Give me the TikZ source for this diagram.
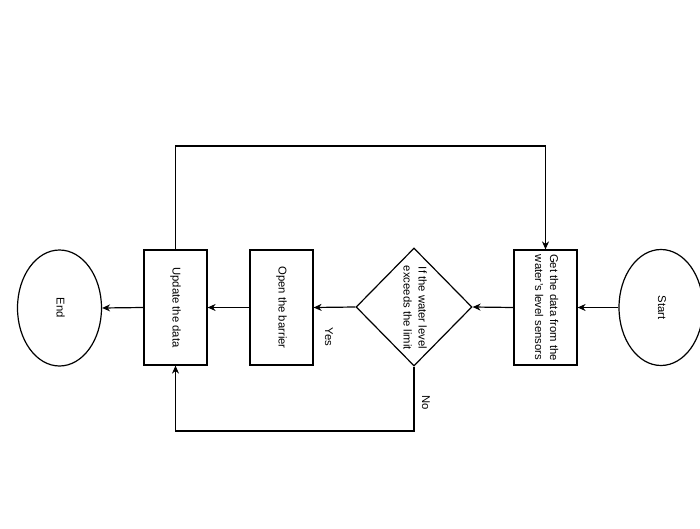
\documentclass[tikz,border=0pt]{standalone}
\usepackage{fontspec}
\setmainfont{Liberation Sans}
\usetikzlibrary{shapes.geometric,arrows.meta}
\newcommand{\rt}[1]{\rotatebox[origin=c]{-90}{\begin{tabular}{@{}c@{}}#1\end{tabular}}}
\begin{document}
\begin{tikzpicture}[x=1pt,y=-1pt,
  every node/.style={font=\fontsize{11.3}{15}\selectfont},
  box/.style={draw,line width=1.2pt,minimum width=63pt,minimum height=115pt,inner sep=0pt},
  term/.style={draw,line width=1.2pt,ellipse,minimum width=84pt,minimum height=116pt,inner sep=0pt},
  dec/.style={draw,line width=1.2pt,diamond,minimum width=116pt,minimum height=118pt,inner sep=0pt},
  conn/.style={line width=1.2pt,-{Stealth[length=8pt,width=7pt]}},
  lbl/.style={inner sep=1pt}]
\useasboundingbox (0,0) rectangle (700,529);
\node[term] (start) at (661,307.5) {\rt{Start}};
\node[box] (get) at (545.5,307.5) {\rt{Get the data from the\\water's level sensors}};
\node[dec] (dec) at (414,307) {};
\node[inner sep=0pt] (dectext) at (414,308) {\rt{If the water level\\exceeds the limit}};
\node[box] (open) at (281.5,307.5) {\rt{Open the barrier}};
\node[box] (upd) at (175.5,307.5) {\rt{Update the data}};
\node[term] (end) at (59.5,308) {\rt{End}};
\coordinate (tl) at (175.5,146);
\coordinate (tr) at (545.5,146);
\coordinate (bl) at (175.5,431);
\coordinate (br) at (414,431);
\draw[conn] (start.west) -- (get.east);
\draw[conn] (get.west) -- (dec.east);
\draw[conn] (dec.west) -- (open.east);
\draw[conn] (open.west) -- (upd.east);
\draw[conn] (upd.west) -- (end.east);
\draw[conn] (upd.north) -- (tl) -- (tr) -- (get.north);
\draw[conn] (dec.south) -- (br) -- (bl) -- (upd.south);
\node[lbl] (yes) at (328,337) {\rt{Yes}};
\node[lbl] (no) at (425,403) {\rt{No}};
\end{tikzpicture}
\end{document}
